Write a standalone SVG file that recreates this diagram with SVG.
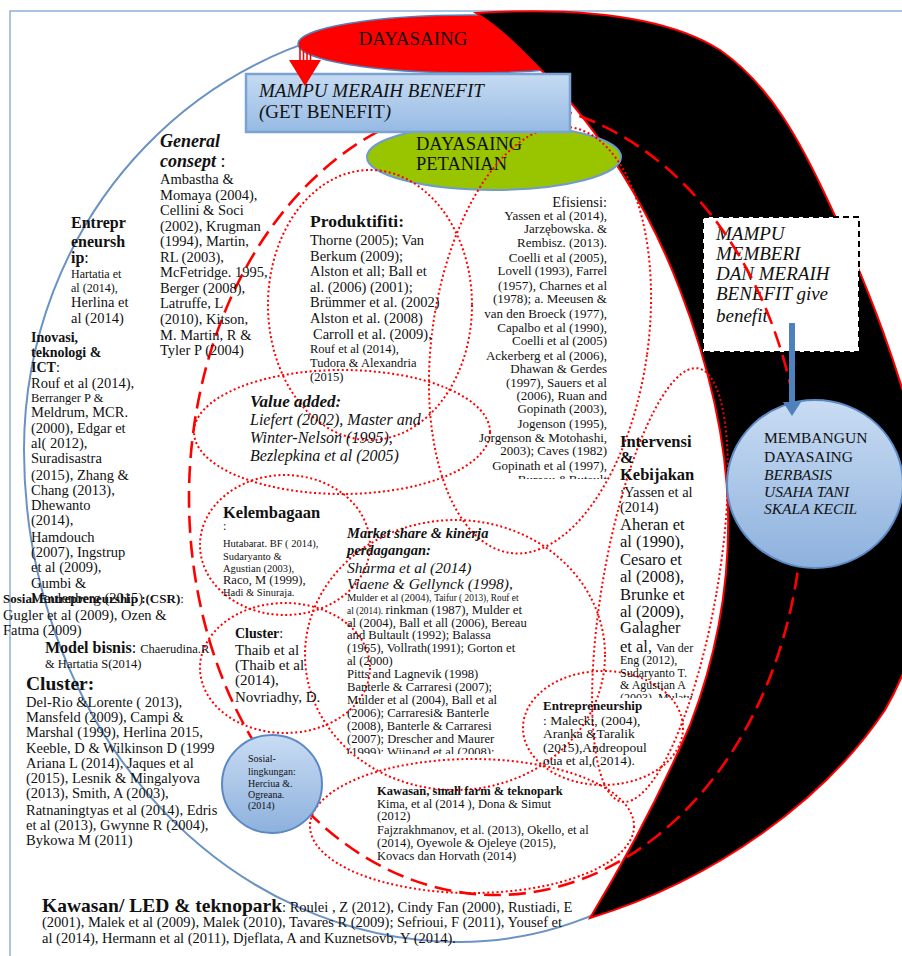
<svg xmlns="http://www.w3.org/2000/svg" width="902" height="956" viewBox="0 0 902 956">
<style>
.t{font-family:"Liberation Serif","Times New Roman",serif;fill:#111}
.b{font-weight:bold}
.i{font-style:italic}
.bi{font-weight:bold;font-style:italic}
.dot{fill:none;stroke:#ff0000;stroke-width:2;stroke-dasharray:2 2.6}
.dash{fill:none;stroke:#ff0000;stroke-width:2.6;stroke-dasharray:17 8}
.s145{font-size:14.5px}
.s13{font-size:13px}
.s125{font-size:12.5px}
</style>
<defs>
<linearGradient id="gRect" x1="0" y1="0" x2="0" y2="1"><stop offset="0" stop-color="#c6dbf2"/><stop offset="1" stop-color="#96bae4"/></linearGradient>
<linearGradient id="gCirc" x1="0" y1="0" x2="0" y2="1"><stop offset="0" stop-color="#c9dcf3"/><stop offset="1" stop-color="#8db1dd"/></linearGradient>
<clipPath id="cEf"><rect x="400" y="170" width="230" height="309"/></clipPath>
<clipPath id="cMs"><rect x="330" y="520" width="260" height="234"/></clipPath>
<clipPath id="cIv"><rect x="600" y="430" width="120" height="268"/></clipPath>
</defs>

<g id="background">
<rect x="10" y="11" width="1000" height="1000" fill="none" stroke="#8eb0d6" stroke-width="1.5"/>
<path d="M440,20 A416 430 0 0 0 24 450 A435 492 0 0 0 459 942 A411 492 0 0 0 870 450 A430 430 0 0 0 440 20 Z" fill="none" stroke="#6a93c4" stroke-width="2"/>
</g>

<g id="node-dayasaing">
<ellipse cx="470" cy="44" rx="172" ry="29" fill="#ff0000" stroke="#4f81bd" stroke-width="1.5"/>
<text class="t" x="413" y="45" font-size="19" text-anchor="middle">DAYASAING</text>
</g>

<g id="black-band">
<path d="M476,13 C560,8 660,12 720,50 C770,85 800,140 830,205 C870,290 900,370 925,470 C940,560 920,650 885,710 C825,800 715,880 590,918 C625,860 660,795 690,725 C715,660 730,590 728,510 C726,430 705,355 680,290 C650,210 600,130 543,72 C520,48 500,28 476,13 Z" fill="#000" stroke="#ff0000" stroke-width="2"/>
</g>

<g id="node-dayasaing-petanian">
<ellipse cx="494" cy="157" rx="127" ry="33" fill="#99c400" stroke="#6f9bd1" stroke-width="2"/>
<text class="t" x="416" y="150" font-size="18.5">DAYASAING</text>
<text class="t" x="416" y="170" font-size="18.5">PETANIAN</text>
</g>

<g id="regions-dotted">
<ellipse class="dot" cx="370" cy="305" rx="102" ry="135"/>
<ellipse class="dot" cx="540" cy="340" rx="108" ry="215" transform="rotate(8 540 340)"/>
<ellipse class="dot" cx="342" cy="432" rx="148" ry="62"/>
<ellipse class="dot" cx="285" cy="545" rx="85" ry="70"/>
<ellipse class="dot" cx="285" cy="668" rx="85" ry="65"/>
<ellipse class="dot" cx="455" cy="655" rx="150" ry="135"/>
<ellipse class="dot" cx="660" cy="585" rx="57" ry="220" transform="rotate(10 660 585)"/>
<ellipse class="dot" cx="603" cy="728" rx="80" ry="57"/>
<ellipse class="dot" cx="472" cy="826" rx="162" ry="67"/>
</g>

<g id="node-memberi-benefit">
<rect x="703" y="217" width="156" height="135" fill="#fff" stroke="#000" stroke-width="2" stroke-dasharray="6 4"/>
<text class="t i" font-size="19"><tspan x="716" y="240">MAMPU</tspan><tspan x="716" y="260">MEMBERI</tspan><tspan x="716" y="280">DAN MERAIH</tspan><tspan x="716" y="300">BENEFIT give</tspan><tspan x="716" y="322">benefit</tspan></text>
</g>

<g id="region-dashed">
<ellipse class="dash" cx="496" cy="498" rx="307" ry="397"/>
</g>

<g id="node-meraih-benefit">
<rect x="246" y="74" width="324" height="58" fill="url(#gRect)" stroke="#7aa3d4" stroke-width="2.5"/>
<text class="t i" x="259" y="97" font-size="19">MAMPU MERAIH BENEFIT</text>
<text class="t" x="259" y="118" font-size="19"><tspan class="i">(</tspan>GET BENEFIT<tspan class="i">)</tspan></text>
</g>

<g id="node-membangun">
<ellipse cx="815" cy="484" rx="88" ry="84" fill="url(#gCirc)" stroke="#5b89c3" stroke-width="2"/>
<text class="t" font-size="15.5"><tspan x="764" y="443">MEMBANGUN</tspan><tspan x="764" y="462">DAYASAING</tspan></text>
<text class="t i" font-size="15.5"><tspan x="764" y="480">BERBASIS</tspan><tspan x="764" y="497">USAHA TANI</tspan><tspan x="764" y="514">SKALA KECIL</tspan></text>
</g>

<g id="node-sosial-lingkungan">
<ellipse cx="272" cy="784" rx="50" ry="49" fill="url(#gCirc)" stroke="#5b89c3" stroke-width="2"/>
<text class="t" font-size="10"><tspan x="248" y="762">Sosial-</tspan><tspan x="248" y="775">lingkungan:</tspan><tspan x="248" y="787">Herciua &amp;.</tspan><tspan x="248" y="798">Ogreana.</tspan><tspan x="248" y="809">(2014)</tspan></text>
</g>

<g id="connectors">
<g stroke="#ff0000" stroke-width="1.6"><line x1="300" y1="46" x2="300" y2="61"/><line x1="303.5" y1="46" x2="303.5" y2="61"/><line x1="307" y1="46" x2="307" y2="61"/><line x1="310.5" y1="46" x2="310.5" y2="61"/></g>
<polygon points="289,60 321,60 305,86" fill="#ff0000"/>
<rect x="789" y="323" width="6" height="80" fill="#4f81bd"/>
<polygon points="783,402 801,402 792,416" fill="#4f81bd"/>
</g>

<g id="node-general-consept" class="t s145">
<text class="bi" x="160" y="147" font-size="18">General</text>
<text x="160" y="167" font-size="18"><tspan class="bi">consept</tspan> :</text>
<text><tspan x="160" y="184">Ambastha &amp;</tspan><tspan x="160" y="200">Momaya (2004),</tspan><tspan x="160" y="215">Cellini &amp; Soci</tspan><tspan x="160" y="231">(2002), Krugman</tspan><tspan x="160" y="246">(1994), Martin,</tspan><tspan x="160" y="262">RL (2003),</tspan><tspan x="160" y="277">McFetridge. 1995,</tspan><tspan x="160" y="293">Berger (2008),</tspan><tspan x="160" y="308">Latruffe, L</tspan><tspan x="160" y="324">(2010), Kitson,</tspan><tspan x="160" y="340">M. Martin, R &amp;</tspan><tspan x="160" y="355">Tyler P (2004)</tspan></text>
</g>

<g id="node-entrepreneurship" class="t">
<text class="b" font-size="16"><tspan x="71" y="228">Entrepr</tspan><tspan x="71" y="247">eneursh</tspan></text>
<text x="71" y="263" font-size="16"><tspan class="b">ip</tspan>:</text>
<text font-size="12"><tspan x="71" y="278">Hartatia et</tspan><tspan x="71" y="292">al (2014),</tspan></text>
<text class="s145"><tspan x="71" y="307">Herlina et</tspan><tspan x="71" y="323">al (2014)</tspan></text>
</g>

<g id="node-inovasi" class="t s145">
<text class="b" font-size="14"><tspan x="31" y="342">Inovasi,</tspan><tspan x="31" y="357">teknologi &amp;</tspan></text>
<text x="31" y="372" font-size="14"><tspan class="b">ICT</tspan>:</text>
<text x="31" y="388">Rouf et al (2014),</text>
<text x="31" y="402" font-size="12.5">Berranger P &amp;</text>
<text><tspan x="31" y="417">Meldrum, MCR.</tspan><tspan x="31" y="433">(2000), Edgar et</tspan><tspan x="31" y="448">al( 2012),</tspan><tspan x="31" y="463">Suradisastra</tspan><tspan x="31" y="480">(2015), Zhang &amp;</tspan><tspan x="31" y="495">Chang (2013),</tspan><tspan x="31" y="510">Dhewanto</tspan><tspan x="31" y="525">(2014),</tspan><tspan x="31" y="542">Hamdouch</tspan><tspan x="31" y="557">(2007), Ingstrup</tspan><tspan x="31" y="572">et al (2009),</tspan><tspan x="31" y="588">Gumbi &amp;</tspan><tspan x="31" y="603">Meulenberg (2015)</tspan></text>
</g>

<g id="node-sosial-entrepreneurship" class="t">
<text x="3" y="603" font-size="13"><tspan class="b">Sosial Entrepreneurship :(CSR)</tspan>:</text>
<text class="s145"><tspan x="3" y="620">Gugler et al (2009), Ozen &amp;</tspan><tspan x="3" y="635">Fatma (2009)</tspan></text>
</g>

<g id="node-model-bisnis" class="t">
<text x="45" y="653" font-size="16"><tspan class="b">Model bisnis</tspan>: <tspan font-size="12.5">Chaerudina.R</tspan></text>
<text x="45" y="668" font-size="12.5">&amp; Hartatia S(2014)</text>
</g>

<g id="node-cluster" class="t s145">
<text class="b" x="26" y="690" font-size="19.5">Cluster:</text>
<text><tspan x="26" y="707">Del-Rio &amp;Lorente ( 2013),</tspan><tspan x="26" y="722">Mansfeld (2009), Campi &amp;</tspan><tspan x="26" y="737">Marshal (1999), Herlina 2015,</tspan><tspan x="26" y="753">Keeble, D &amp; Wilkinson D (1999</tspan><tspan x="26" y="768">Ariana L (2014), Jaques et al</tspan><tspan x="26" y="783">(2015), Lesnik &amp; Mingalyova</tspan><tspan x="26" y="798">(2013), Smith, A (2003),</tspan><tspan x="26" y="815">Ratnaningtyas et al (2014), Edris</tspan><tspan x="26" y="830">et al (2013), Gwynne R (2004),</tspan><tspan x="26" y="845">Bykowa M (2011)</tspan></text>
</g>

<g id="node-kawasan-led" class="t s145">
<text x="42" y="912"><tspan class="b" font-size="19.5">Kawasan/ LED &amp; teknopark</tspan>: Roulei , Z (2012), Cindy Fan (2000), Rustiadi, E</text>
<text><tspan x="42" y="927">(2001), Malek et al (2009), Malek (2010), Tavares R (2009); Sefrioui, F (2011), Yousef et</tspan><tspan x="42" y="943">al (2014), Hermann et al (2011), Djeflata, A and Kuznetsovb, Y (2014).</tspan></text>
</g>

<g id="node-produktifiti" class="t s145">
<text class="b" x="310" y="227" font-size="17.5">Produktifiti:</text>
<text><tspan x="310" y="245">Thorne (2005); Van</tspan><tspan x="310" y="261">Berkum (2009);</tspan><tspan x="310" y="276">Alston et all; Ball et</tspan><tspan x="310" y="292">al. (2006) (2001);</tspan><tspan x="310" y="307">Brümmer et al. (2002)</tspan><tspan x="310" y="323">Alston et al. (2008)</tspan><tspan x="313" y="339">Carroll et al. (2009),</tspan></text>
<text class="s125"><tspan x="310" y="353">Rouf et al (2014),</tspan><tspan x="310" y="367">Tudora &amp; Alexandria</tspan><tspan x="310" y="381">(2015)</tspan></text>
</g>

<g id="node-value-added" class="t">
<text class="bi" x="250" y="407" font-size="17">Value added:</text>
<text class="i" font-size="16"><tspan x="250" y="425">Liefert (2002), Master and</tspan><tspan x="250" y="443">Winter-Nelson (1995),</tspan><tspan x="250" y="461">Bezlepkina et al (2005)</tspan></text>
</g>

<g id="node-efisiensi" class="t" text-anchor="end">
<text x="607" y="207" font-size="14.5">Efisiensi:</text>
<text class="s13" clip-path="url(#cEf)"><tspan x="607" y="220">Yassen et al (2014),</tspan><tspan x="607" y="233">Jarzębowska. &amp;</tspan><tspan x="607" y="247">Rembisz. (2013).</tspan><tspan x="607" y="262">Coelli et al (2005),</tspan><tspan x="607" y="275">Lovell (1993), Farrel</tspan><tspan x="607" y="290">(1957), Charnes et al</tspan><tspan x="607" y="303">(1978); a. Meeusen &amp;</tspan><tspan x="607" y="318">van den Broeck (1977),</tspan><tspan x="607" y="332">Capalbo et al (1990),</tspan><tspan x="607" y="345">Coelli et al (2005)</tspan><tspan x="607" y="360">Ackerberg et al (2006),</tspan><tspan x="607" y="373">Dhawan &amp; Gerdes</tspan><tspan x="607" y="387">(1997), Sauers et al</tspan><tspan x="607" y="400">(2006), Ruan and</tspan><tspan x="607" y="413">Gopinath (2003),</tspan><tspan x="607" y="428">Jogenson (1995),</tspan><tspan x="607" y="442">Jorgenson &amp; Motohashi,</tspan><tspan x="607" y="455">2003); Caves (1982)</tspan><tspan x="607" y="470">Gopinath et al (1997),</tspan><tspan x="607" y="484">Bureau &amp;Butault</tspan></text>
</g>

<g id="node-intervensi" class="t">
<text class="b" font-size="16.5"><tspan x="620" y="447">Intervensi</tspan><tspan x="620" y="463">&amp;</tspan><tspan x="620" y="480">Kebijakan</tspan></text>
<text class="s145"><tspan x="620" y="497">:Yassen et al</tspan><tspan x="620" y="512">(2014)</tspan></text>
<text font-size="16.5"><tspan x="620" y="530">Aheran et</tspan><tspan x="620" y="547">al (1990),</tspan><tspan x="620" y="565">Cesaro et</tspan><tspan x="620" y="582">al (2008),</tspan><tspan x="620" y="600">Brunke et</tspan><tspan x="620" y="617">al (2009),</tspan><tspan x="620" y="633">Galagher</tspan></text>
<text x="620" y="652" font-size="16.5">et al, <tspan font-size="12">Van der</tspan></text>
<text font-size="12" clip-path="url(#cIv)"><tspan x="620" y="664">Eng (2012),</tspan><tspan x="620" y="677">Sudaryanto T.</tspan><tspan x="620" y="689">&amp; Agustian A</tspan><tspan x="620" y="702">(2003), Mulatu</tspan></text>
</g>

<g id="node-entrepreneurship-2" class="t">
<text class="b" x="543" y="710" font-size="13">Entrepreneurship</text>
<text font-size="13.5"><tspan x="543" y="725">: Malecki, (2004),</tspan><tspan x="543" y="738">Aranka &amp;Taralik</tspan><tspan x="543" y="752">(2015),Andreopoul</tspan><tspan x="543" y="765">oua et al,( 2014).</tspan></text>
</g>

<g id="node-kelembagaan" class="t">
<text class="b" x="223" y="518" font-size="16.5">Kelembagaan</text>
<text x="223" y="530" font-size="12">:</text>
<text font-size="10.5"><tspan x="223" y="547">Hutabarat. BF ( 2014),</tspan><tspan x="223" y="560">Sudaryanto &amp;</tspan><tspan x="223" y="572">Agustian (2003),</tspan></text>
<text x="223" y="584" font-size="12.5">Raco, M (1999),</text>
<text x="223" y="596" font-size="10.5">Hadi &amp; Sinuraja.</text>
</g>

<g id="node-cluster-2" class="t">
<text x="235" y="638" font-size="14"><tspan class="b">Cluster</tspan>:</text>
<text font-size="15"><tspan x="235" y="655">Thaib et al</tspan><tspan x="235" y="670">(Thaib et al</tspan><tspan x="235" y="685">(2014),</tspan><tspan x="235" y="702">Novriadhy, D.</tspan></text>
</g>

<g id="node-market-share" class="t">
<text class="bi" font-size="14.5"><tspan x="347" y="538">Market share &amp; kinerja</tspan><tspan x="347" y="555">perdagangan:</tspan></text>
<text class="i" font-size="15.5"><tspan x="347" y="573">Sharma et al (2014)</tspan><tspan x="347" y="589">Viaene &amp; Gellynck (1998),</tspan></text>
<text x="347" y="601" font-size="10.5">Mulder et al (2004), <tspan font-size="9.3">Taifur ( 2013), Rouf et</tspan></text>
<text x="347" y="614" font-size="9.3">al (2014). <tspan font-size="12.8">rinkman (1987), Mulder et</tspan></text>
<text font-size="12.6" clip-path="url(#cMs)"><tspan x="347" y="627">al (2004), Ball et all (2006), Bereau</tspan><tspan x="347" y="639">and Bultault (1992); Balassa</tspan><tspan x="347" y="652">(1965), Vollrath(1991); Gorton et</tspan><tspan x="347" y="665">al (2000)</tspan><tspan x="347" y="678">Pitts and Lagnevik (1998)</tspan><tspan x="347" y="691">Banterle &amp; Carraresi (2007);</tspan><tspan x="347" y="704">Mulder et al (2004), Ball et al</tspan><tspan x="347" y="717">(2006); Carraresi&amp; Banterle</tspan><tspan x="347" y="730">(2008), Banterle &amp; Carraresi</tspan><tspan x="347" y="743">(2007); Drescher and Maurer</tspan><tspan x="347" y="756">(1999): Wiinand et al (2008):</tspan></text>
</g>

<g id="node-kawasan-small-farm" class="t">
<text class="b" x="377" y="795" font-size="12.5">Kawasan, small farm &amp; teknopark</text>
<text font-size="12.5"><tspan x="377" y="808">Kima, et al (2014 ), Dona &amp; Simut</tspan><tspan x="377" y="820">(2012)</tspan><tspan x="377" y="834">Fajzrakhmanov, et al. (2013), Okello, et al</tspan><tspan x="377" y="847">(2014), Oyewole &amp; Ojeleye (2015),</tspan><tspan x="377" y="860">Kovacs dan Horvath (2014)</tspan></text>
</g>
</svg>
